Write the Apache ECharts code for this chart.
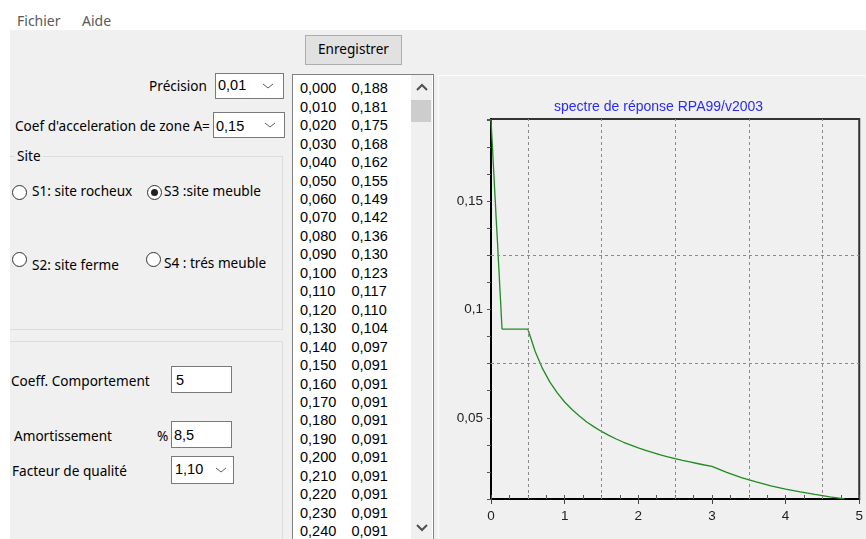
<!DOCTYPE html>
<html>
<head>
<meta charset="utf-8">
<script src="https://cdn.jsdelivr.net/npm/echarts@6/dist/echarts.min.js"></script>
<style>
  html, body { margin:0; padding:0; width:866px; height:539px; overflow:hidden; background:#ffffff; }
  .abs { position:absolute; }
  .ui { position:absolute; font-family:"Noto Sans", sans-serif; font-size:13.6px; line-height:16px; color:#000; white-space:nowrap; }
  .mono { position:absolute; font-family:"Liberation Sans", sans-serif; font-size:14.5px; line-height:16px; color:#000; white-space:nowrap; }
  .box { position:absolute; background:#fff; border:1px solid #7a7a7a; box-sizing:border-box; }
  .radio { position:absolute; width:15px; height:15px; border:1px solid #333; border-radius:50%; background:#fff; box-sizing:border-box; }
  .dot { position:absolute; left:3px; top:3px; width:7px; height:7px; border-radius:50%; background:#222; }
</style>
</head>
<body>
<div class="abs" style="left:10px;top:30px;width:856px;height:509px;background:#f0f0f0;"></div>
<div class="ui" style="left:17px;top:13px;color:#5a5a5a;font-size:14px;">Fichier</div>
<div class="ui" style="left:82px;top:13px;color:#5a5a5a;font-size:14px;">Aide</div>

<!-- button -->
<div class="abs" style="left:305px;top:35px;width:97px;height:30px;background:#e1e1e1;border:1px solid #adadad;box-sizing:border-box;"></div>
<div class="ui" style="left:305px;top:41px;width:97px;text-align:center;">Enregistrer</div>

<!-- Precision -->
<div class="ui" style="left:100px;top:78px;width:107px;text-align:right;">Précision</div>
<div class="box" style="left:215px;top:73px;width:69px;height:26px;"></div>
<div class="mono" style="left:218px;top:77px;">0,01</div>
<svg class="abs" style="left:262px;top:82px;" width="12" height="8"><polyline points="1,2 6,6 11,2" fill="none" stroke="#606060" stroke-width="1"/></svg>

<!-- Coef -->
<div class="ui" style="left:15px;top:118px;">Coef d'acceleration de zone A=</div>
<div class="box" style="left:213px;top:112px;width:72px;height:26px;"></div>
<div class="mono" style="left:216px;top:118px;">0,15</div>
<svg class="abs" style="left:264px;top:121px;" width="12" height="8"><polyline points="1,2 6,6 11,2" fill="none" stroke="#606060" stroke-width="1"/></svg>

<!-- Site group -->
<div class="abs" style="left:10px;top:156px;width:273px;height:174px;border:1px solid #dcdcdc;border-left:none;box-sizing:border-box;"></div>
<div class="ui" style="left:15px;top:148px;background:#f0f0f0;padding:0 2px;">Site</div>
<div class="radio" style="left:12px;top:185px;"></div>
<div class="ui" style="left:32px;top:183px;">S1: site rocheux</div>
<div class="radio" style="left:147px;top:185px;"><div class="dot"></div></div>
<div class="ui" style="left:164px;top:183px;">S3 :site meuble</div>
<div class="radio" style="left:12px;top:252px;"></div>
<div class="ui" style="left:32px;top:257px;">S2: site ferme</div>
<div class="radio" style="left:146px;top:252px;"></div>
<div class="ui" style="left:164px;top:255px;">S4 : trés meuble</div>

<!-- second group -->
<div class="abs" style="left:10px;top:341px;width:273px;height:210px;border:1px solid #dcdcdc;border-left:none;box-sizing:border-box;"></div>
<div class="ui" style="left:11px;top:373px;">Coeff. Comportement</div>
<div class="box" style="left:171px;top:366px;width:61px;height:27px;"></div>
<div class="mono" style="left:176px;top:372px;">5</div>
<div class="ui" style="left:14px;top:428px;">Amortissement</div>
<div class="ui" style="left:157px;top:428px;">%</div>
<div class="box" style="left:171px;top:421px;width:61px;height:27px;"></div>
<div class="mono" style="left:174px;top:427px;">8,5</div>
<div class="ui" style="left:12px;top:463px;">Facteur de qualité</div>
<div class="box" style="left:171px;top:456px;width:63px;height:28px;"></div>
<div class="mono" style="left:175px;top:461px;">1,10</div>
<svg class="abs" style="left:215px;top:466px;" width="12" height="8"><polyline points="1,2 6,6 11,2" fill="none" stroke="#606060" stroke-width="1"/></svg>

<!-- list box -->
<div class="abs" style="left:292px;top:74px;width:142px;height:480px;background:#fff;border:1px solid #828282;box-sizing:border-box;"></div>
<div class="abs" style="left:411px;top:75px;width:21px;height:470px;background:#f0f0f0;"></div>
<div class="abs" style="left:411px;top:100px;width:20px;height:22px;background:#cdcdcd;"></div>
<svg class="abs" style="left:416px;top:83px;" width="12" height="9"><polyline points="1,7 6,2 11,7" fill="none" stroke="#505050" stroke-width="2"/></svg>
<svg class="abs" style="left:416px;top:523px;" width="12" height="9"><polyline points="1,2 6,7 11,2" fill="none" stroke="#505050" stroke-width="2"/></svg>
<div id="list"></div>

<!-- chart panel -->
<div class="abs" style="left:438px;top:75px;width:428px;height:464px;background:#f0f0f0;border-left:1px solid #fcfcfc;border-top:1px solid #fcfcfc;box-sizing:border-box;"></div>
<div id="chart" class="abs" style="left:438px;top:75px;width:428px;height:464px;"></div>

<script>
// ---- data ----
const listT = [0.000,0.010,0.020,0.030,0.040,0.050,0.060,0.070,0.080,0.090,0.100,0.110,0.120,0.130,0.140,0.150,0.160,0.170,0.180,0.190,0.200,0.210,0.220,0.230,0.240];
const listSa = [0.188,0.181,0.175,0.168,0.162,0.155,0.149,0.142,0.136,0.130,0.123,0.117,0.110,0.104,0.097,0.091,0.091,0.091,0.091,0.091,0.091,0.091,0.091,0.091,0.091];

const periodT = [0.00,0.01,0.02,0.03,0.04,0.05,0.06,0.07,0.08,0.09,0.10,0.11,0.12,0.13,0.14,0.15,
  0.50,0.60,0.70,0.80,0.90,1.00,1.10,1.20,1.30,1.40,1.50,1.60,1.70,1.80,1.90,2.00,2.10,2.20,2.30,2.40,2.50,2.60,2.70,2.80,2.90,3.00,
  3.20,3.40,3.60,3.80,4.00,4.20,4.40,4.60,4.80];
const spectrumSa = [0.188,0.181,0.175,0.168,0.162,0.155,0.149,0.142,0.136,0.130,0.123,0.117,0.110,0.104,0.097,0.091,
  0.0910,0.0806,0.0727,0.0665,0.0615,0.0573,0.0538,0.0508,0.0481,0.0458,0.0437,0.0419,0.0402,0.0387,0.0374,0.0361,0.0350,0.0339,0.0329,0.0320,0.0311,0.0303,0.0296,0.0289,0.0282,0.0276,
  0.0248,0.0224,0.0204,0.0186,0.0171,0.0158,0.0146,0.0135,0.0126];

const gridX = [0.5,1.5,2.5,3.5,4.5];
const gridY = [0.075,0.125];
const chartTitle = 'spectre de réponse RPA99/v2003';

// ---- list box text ----
const fmt = v => v.toFixed(3).replace('.', ',');
const listEl = document.getElementById('list');
let html = '';
for (let i = 0; i < listT.length; i++) {
  const top = 80.3 + i * 18.45;
  html += '<div class="mono" style="left:300px;top:' + top + 'px;">' + fmt(listT[i]) + '</div>';
  html += '<div class="mono" style="left:351.5px;top:' + top + 'px;">' + fmt(listSa[i]) + '</div>';
}
listEl.innerHTML = html;

// ---- chart ----
const chart = echarts.init(document.getElementById('chart'), null, { renderer: 'canvas' });
const seriesData = periodT.map((t, i) => [t, spectrumSa[i]]);
const gridMarks = gridX.map(v => ({ xAxis: v })).concat(gridY.map(v => ({ yAxis: v })));

chart.setOption({
  animation: false,
  backgroundColor: 'transparent',
  title: {
    text: chartTitle,
    left: 111, top: 20,
    textStyle: { color: '#2a2aff', fontSize: 14, fontWeight: 'normal', fontFamily: 'Liberation Sans' }
  },
  grid: { left: 53, right: 1.5, top: 44, bottom: 40, show: true, borderColor: '#333', borderWidth: 2, backgroundColor: 'transparent' },
  xAxis: [
    {
      type: 'value', min: 0, max: 5, interval: 1, position: 'bottom',
      axisLine: { show: true, lineStyle: { color: '#000', width: 2 } },
      axisTick: { show: true, inside: false, length: 5, lineStyle: { color: '#444' } },
      axisLabel: { margin: 10, color: '#222', fontSize: 13.5, fontFamily: 'Liberation Sans', formatter: v => String(Math.round(v)) },
      splitLine: { show: false }
    },
    {
      type: 'value', min: 0, max: 5, interval: 0.25, position: 'bottom', gridIndex: 0,
      axisLine: { show: false },
      axisTick: { show: true, inside: true, length: 4, lineStyle: { color: '#555' } },
      axisLabel: { show: false },
      splitLine: { show: false }
    }
  ],
  yAxis: {
    type: 'value', min: 0.0125, max: 0.188, interval: 0.0125,
    axisLine: { show: true, lineStyle: { color: '#000', width: 2 } },
    axisTick: { show: true, inside: false, length: 4, lineStyle: { color: '#555' } },
    axisLabel: {
      margin: 8, color: '#222', fontSize: 13.5, fontFamily: 'Liberation Sans',
      formatter: v => {
        const r = v / 0.05;
        if (Math.abs(r - Math.round(r)) < 1e-6 && v < 0.185) {
          return String(Math.round(r) * 5 / 100).replace('.', ',');
        }
        return '';
      }
    },
    splitLine: { show: false }
  },
  series: [{
    type: 'line',
    xAxisIndex: 0,
    data: seriesData,
    showSymbol: false,
    symbol: 'none',
    lineStyle: { color: '#1e8c1e', width: 1.3 },
    markLine: {
      silent: true,
      precision: 4,
      symbol: ['none', 'none'],
      label: { show: false },
      lineStyle: { type: [3, 3], color: '#8a8a8a', width: 1 },
      data: gridMarks
    }
  }]
});
</script>
</body>
</html>
